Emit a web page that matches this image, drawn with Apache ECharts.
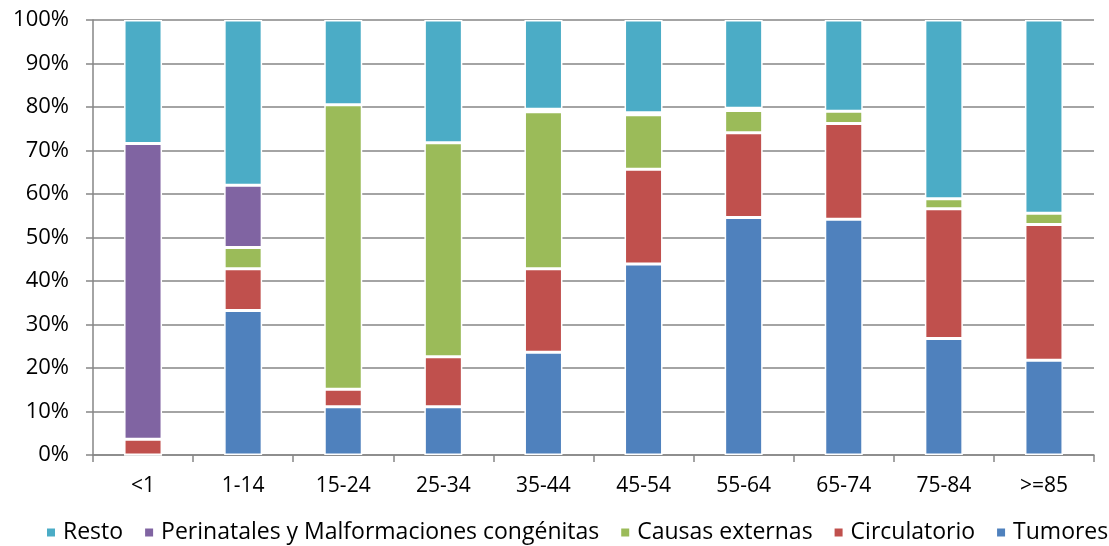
<!DOCTYPE html>
<html>
<head>
<meta charset="utf-8">
<script src="https://cdn.jsdelivr.net/npm/echarts@6/dist/echarts.min.js"></script>
<style>
  html, body { margin: 0; padding: 0; background: #fff; }
  #chart { width: 1109px; height: 546px; }
</style>
</head>
<body>
<div id="chart"></div>
<script>
// Age groups along the x axis
const categories = ['<1', '1-14', '15-24', '25-34', '35-44', '45-54', '55-64', '65-74', '75-84', '>=85'];

// Share of deaths by cause (%), stacked bottom-up
const tumores      = [0,    33.2, 11.1, 11.1, 23.6, 43.9, 54.6, 54.2, 26.8, 21.8];
const circulatorio = [3.6,  9.6,  4.0,  11.5, 19.2, 21.8, 19.5, 22.0, 29.8, 31.2];
const causasExt    = [0,    4.9,  65.4, 49.2, 36.1, 12.5, 5.1,  2.8,  2.3,  2.6];
const perinatales  = [68.0, 14.3, 0,    0,    0.6,  0.5,  0.5,  0,    0,    0];
const resto        = [28.4, 38.0, 19.5, 28.2, 20.5, 21.3, 20.3, 21.0, 41.1, 44.4];

const yTicks = [0, 10, 20, 30, 40, 50, 60, 70, 80, 90, 100];

const FONT = '"Open Sans", "Liberation Sans", sans-serif';
const GRAY = '#868686';

function barSeries(name, data, color) {
  return {
    name: name,
    type: 'bar',
    stack: 'total',
    barWidth: 38,
    data: data,
    itemStyle: { color: color, borderColor: '#ffffff', borderWidth: 1.5 },
    emphasis: { disabled: true }
  };
}

const chart = echarts.init(document.getElementById('chart'), null, { renderer: 'canvas' });
chart.setOption({
  animation: false,
  backgroundColor: '#ffffff',
  textStyle: { fontFamily: FONT },
  grid: { left: 93, right: 15, top: 20, bottom: 91, containLabel: false },
  legend: {
    data: ['Resto', 'Perinatales y Malformaciones congénitas', 'Causas externas', 'Circulatorio', 'Tumores'],
    left: 45,
    top: 521,
    width: 1150,
    padding: 0,
    itemWidth: 10,
    itemHeight: 10,
    itemGap: 20,
    icon: 'rect',
    textStyle: { fontFamily: FONT, fontSize: 23, color: '#000', padding: [0, 0, 0, 2] }
  },
  xAxis: {
    type: 'category',
    data: categories,
    axisLine: { lineStyle: { color: GRAY, width: 1.5 } },
    axisTick: { show: true, length: 7, inside: false, lineStyle: { color: GRAY, width: 1.5 } },
    axisLabel: { color: '#000', fontFamily: FONT, fontSize: 21, margin: 21 }
  },
  yAxis: {
    type: 'value',
    min: yTicks[0],
    max: yTicks[yTicks.length - 1],
    interval: 10,
    axisLine: { show: true, lineStyle: { color: GRAY, width: 1.5 } },
    axisTick: { show: true, length: 7, lineStyle: { color: GRAY, width: 1.5 } },
    splitLine: { show: true, lineStyle: { color: GRAY, width: 1.5 } },
    axisLabel: { color: '#000', fontFamily: FONT, fontSize: 22, margin: 24, formatter: v => v + '%' }
  },
  series: [
    barSeries('Tumores', tumores, '#4F81BD'),
    barSeries('Circulatorio', circulatorio, '#C0504D'),
    barSeries('Causas externas', causasExt, '#9BBB59'),
    barSeries('Perinatales y Malformaciones congénitas', perinatales, '#8064A2'),
    barSeries('Resto', resto, '#4BACC6')
  ]
});
</script>
</body>
</html>
